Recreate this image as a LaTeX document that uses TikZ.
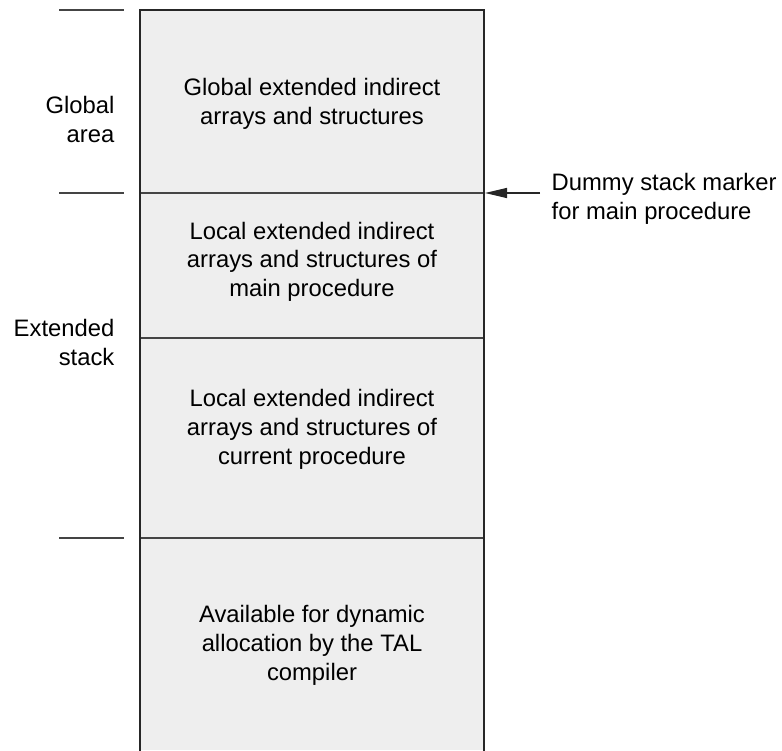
\documentclass[tikz,border=0pt]{standalone}
\usepackage{fontspec}
\setmainfont{Liberation Sans}
\usetikzlibrary{arrows.meta}
\definecolor{boxfill}{HTML}{EEEEEE}
\definecolor{rule}{HTML}{444444}
\begin{document}
\begin{tikzpicture}[x=1pt,y=-1pt,
  lbl/.style={inner sep=0pt,font=\fontsize{23.8}{28.8}\selectfont},
  boxtext/.style={lbl,align=center,anchor=base},
  sidetext/.style={lbl,align=right,anchor=base east},
  divider/.style={draw=rule,line width=1.6pt},
  tick/.style={draw=rule,line width=1.6pt},
  edge/.style={draw=black!85,line width=1.3pt},
  pointer/.style={draw=black!85,line width=1.3pt,-{Triangle[length=22pt,width=10pt]}}]
\useasboundingbox (0,0) rectangle (782,750);
% memory box (open at bottom)
\fill[boxfill] (140,10) rectangle (484,750);
\draw[divider] (140,193) -- (484,193);
\draw[divider] (140,338) -- (484,338);
\draw[divider] (140,538) -- (484,538);
\draw[edge] (140,751) -- (140,10) -- (484,10) -- (484,751);
% outer ticks
\draw[tick] (59,10) -- (124,10);
\draw[tick] (59,193) -- (124,193);
\draw[tick] (59,538) -- (124,538);
% texts in box (anchor base = baseline of last line)
\node[boxtext] (glob) at (312,124) {Global extended indirect\\arrays and structures};
\node[boxtext] (lmain) at (312,296.7) {Local extended indirect\\arrays and structures of\\main procedure};
\node[boxtext] (lcur) at (312,464.3) {Local extended indirect\\arrays and structures of\\current procedure};
\node[boxtext] (avail) at (312,680.5) {Available for dynamic\\allocation by the TAL\\compiler};
% side labels
\node[sidetext] (garea) at (114.5,142.3) {Global\\area};
\node[sidetext] (estack) at (114.5,365) {Extended\\stack};
\node[lbl,align=left,anchor=base west] (dummy) at (551.5,219.5) {Dummy stack marker\\for main procedure};
% pointer
\coordinate (ptail) at (540,193);
\coordinate (phead) at (485,193);
\draw[pointer] (ptail) -- (phead);
\end{tikzpicture}
\end{document}
